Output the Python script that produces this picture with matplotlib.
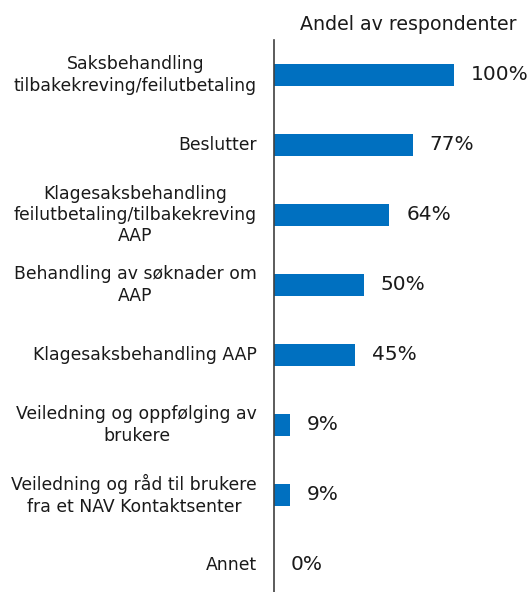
import matplotlib
matplotlib.use("Agg")
import matplotlib.pyplot as plt
from matplotlib.transforms import offset_copy

categories = [
    "Saksbehandling\ntilbakekreving/feilutbetaling",
    "Beslutter",
    "Klagesaksbehandling\nfeilutbetaling/tilbakekreving\nAAP",
    "Behandling av søknader om\nAAP",
    "Klagesaksbehandling AAP",
    "Veiledning og oppfølging av\nbrukere",
    "Veiledning og råd til brukere\nfra et NAV Kontaktsenter",
    "Annet",
]
values = [100, 77, 64, 50, 45, 9, 9, 0]
value_labels = ["100%", "77%", "64%", "50%", "45%", "9%", "9%", "0%"]
title = "Andel av respondenter"

plt.rcParams['font.family'] = ['DejaVu Sans']

W, H = 531, 592
fig = plt.figure(figsize=(W/100, H/100), dpi=100)
ax = fig.add_axes([274/W, 0, (454-274)/W, 1-40/H])

ypos = list(range(len(categories)))
ax.barh(ypos, values, height=0.32, color="#0070C0")
ax.set_xlim(0, 100)
ax.set_ylim(7.386, -0.5)

for s in ["top", "right", "bottom"]:
    ax.spines[s].set_visible(False)
ax.spines["left"].set_color("#404040")
ax.spines["left"].set_linewidth(1.2)
ax.set_xticks([])
ax.set_yticks([])

lab_tr = offset_copy(ax.transData, fig=fig, x=-17, y=0, units="dots")
for y, c in zip(ypos, categories):
    ax.text(0, y, c, transform=lab_tr, ha="right", va="center", multialignment="center",
            fontsize=12.4, linespacing=1.22, color="#1a1a1a", clip_on=False)

val_tr = offset_copy(ax.transData, fig=fig, x=17, y=0, units="dots")
for y, v, t in zip(ypos, values, value_labels):
    ax.text(v, y, t, transform=val_tr, va="center", ha="left", fontsize=14.5, color="#1a1a1a", clip_on=False)

fig.text(408/W, 1-25/H, title, ha="center", va="center", fontsize=13.7, color="#1a1a1a")

fig.savefig("out.png", dpi=100)
